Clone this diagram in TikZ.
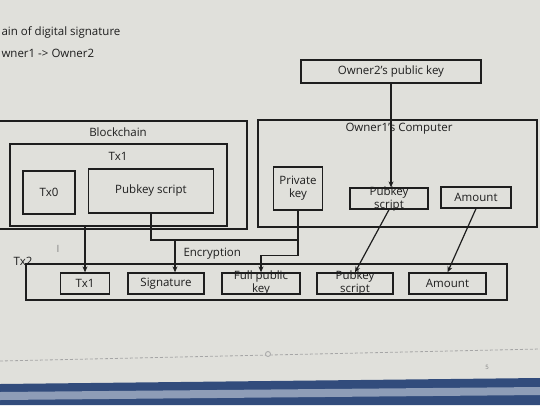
\documentclass[tikz,border=0pt]{standalone}
\usepackage{fontspec}
\setmainfont{Open Sans}
\usetikzlibrary{positioning, arrows.meta}
\definecolor{screen}{RGB}{224,224,219}
\definecolor{ink}{RGB}{30,30,30}
\definecolor{barblue}{RGB}{50,76,124}
\tikzset{
x=1pt, y=-1pt, % one unit is one pixel of the photo, y runs down
every node/.style={font=\fontsize{11.5}{13}\selectfont, text=ink},
box/.style={draw=ink, line width=1.3pt, inner sep=0pt, align=center}, % every rectangle
wire/.style={draw=ink, line width=1.2pt}, % plain connector
link/.style={wire, -{Stealth[length=6pt, width=5pt]}}, % connector with arrow head
}

\begin{document}
\begin{tikzpicture}
\useasboundingbox (0,0) rectangle (540,405);
\fill[screen] (0,0) rectangle (540,405);
% slide header, cut off at the left
\node[anchor=base west] (head1) at (-2,35) {ain of digital signature};
\node[anchor=base west] (head2) at (-2,57) {wner1 -> Owner2};

\node[box, minimum width=180, minimum height=23] (pk2) at (391,71.5) {Owner2's public key};

% blockchain
\node[box, minimum width=252, minimum height=108] (chain) at (121,175) {};
\node (chainlbl) at (118,132) {Blockchain};
\node[box, minimum width=217, minimum height=82] (tx1) at (118.5,185) {};
\node (tx1lbl) at (118,156) {Tx1};
\node[box, minimum width=52, minimum height=43] (tx0) at (49,192.5) {Tx0};
\node[box, minimum width=125, minimum height=44] (script1) at (151,191) {Pubkey script};

% owner1's computer
\node[box, minimum width=279, minimum height=107] (comp) at (397.5,173.5) {};
\node (complbl) at (399,129) {Owner1's Computer};
\node[box, minimum width=49, minimum height=43] (priv) at (298,188.5) {Private\\key};
\node[box, minimum width=78, minimum height=21] (script2) at (389,198.5) {};
\node[align=center] (script2txt) at (389,199) {Pubkey\\script};
\node[box, minimum width=70, minimum height=21] (amt1) at (476,197.5) {Amount};

% new transaction
\node[box, minimum width=481, minimum height=36] (tx2) at (266.5,282) {};
\node[anchor=base] (tx2lbl) at (23,265) {Tx2};
\node[box, minimum width=49, minimum height=21] (in1) at (85,283.5) {Tx1};
\node[box, minimum width=76, minimum height=21] (sig) at (166,283.5) {Signature};
\node[box, minimum width=78, minimum height=21] (full) at (261,283.5) {};
\node[align=center] (fulltxt) at (261,283) {Full public\\key};
\node[box, minimum width=76, minimum height=21] (script3) at (355,283.5) {};
\node[align=center] (script3txt) at (355,283) {Pubkey\\script};
\node[box, minimum width=77, minimum height=21] (amt2) at (447.5,283.5) {Amount};

\coordinate (mix) at (298,240);
\coordinate (enc) at (175,240);
\draw[link] (tx1.south -| in1.north) -- (in1.north);
\draw[wire] (script1.south) |- (mix);
\draw[link] (priv.south) -- ++(0,45) -| (full.north);
\draw[link] (enc) -- (enc |- sig.north);
\node[anchor=west] (enclbl) at (180,254) {Encryption};
\draw[link] (pk2.south) -- (pk2.south |- script2.north);
\draw[link] (script2.south) -- (script3.north);
\draw[link] (amt1.south) -- (amt2.north);

% cursor, page rule and task bar of the screen
\node[text=gray, font=\fontsize{10}{11}\selectfont] (cursor) at (58,249) {I};
\draw[gray!70, line width=0.8pt, dash pattern=on 3pt off 2pt] (0,361) -- (540,349);
\draw[gray!70, line width=0.8pt, fill=screen] (268,354) circle (2.5pt);
\node[text=gray, font=\fontsize{6}{7}\selectfont] (pageno) at (487,367) {5};
\fill[barblue] (0,384) -- (540,378) -- (540,405) -- (0,405) -- cycle;
\fill[barblue!55!white] (0,392) -- (540,387) -- (540,395) -- (0,400) -- cycle;
\end{tikzpicture}
\end{document}
